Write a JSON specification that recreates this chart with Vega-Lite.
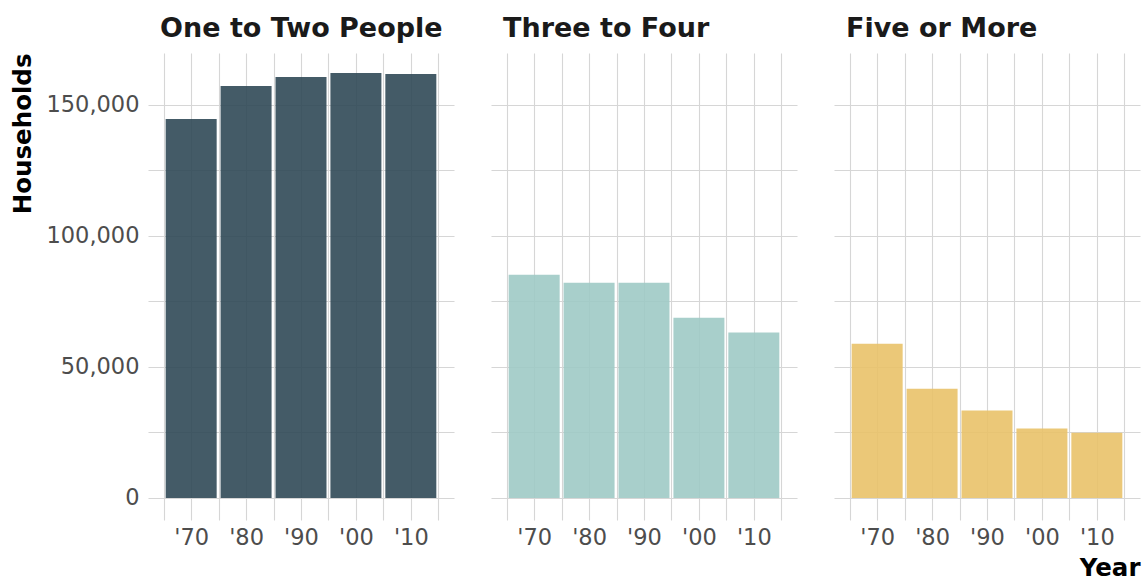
{
  "$schema": "https://vega.github.io/schema/vega-lite/v6.json",
  "padding": {"left": 10, "top": 15, "right": 2, "bottom": 2},
  "background": "white",
  "config": {
    "font": "DejaVu Sans",
    "view": {"stroke": null},
    "axis": {"grid": true, "gridColor": "#d6d6d6", "gridWidth": 1.1, "domain": false, "ticks": false, "tickSize": 0, "labelFontSize": 22.5, "labelColor": "#4d4d4d", "titleFontSize": 24.5, "titleFontWeight": "bold", "titleColor": "#000000"},
    "title": {"fontSize": 27, "fontWeight": "bold", "anchor": "start", "frame": "group", "color": "#1a1a1a", "offset": 10},
    "concat": {"spacing": 37}
  },
  "datasets": {
    "households": [
      {"size": "One to Two People", "year": 1970, "households": 144600},
      {"size": "One to Two People", "year": 1980, "households": 157200},
      {"size": "One to Two People", "year": 1990, "households": 160600},
      {"size": "One to Two People", "year": 2000, "households": 162150},
      {"size": "One to Two People", "year": 2010, "households": 161800},
      {"size": "Three to Four", "year": 1970, "households": 85200},
      {"size": "Three to Four", "year": 1980, "households": 82100},
      {"size": "Three to Four", "year": 1990, "households": 82100},
      {"size": "Three to Four", "year": 2000, "households": 68800},
      {"size": "Three to Four", "year": 2010, "households": 63100},
      {"size": "Five or More", "year": 1970, "households": 58900},
      {"size": "Five or More", "year": 1980, "households": 41700},
      {"size": "Five or More", "year": 1990, "households": 33400},
      {"size": "Five or More", "year": 2000, "households": 26500},
      {"size": "Five or More", "year": 2010, "households": 24900}
    ]
  },
  "data": {"name": "households"},
  "hconcat": [
    {
      "width": 306, "height": 467,
      "title": {"text": "One to Two People", "dx": 12, "frame": "group"},
      "transform": [{"filter": "datum.size == 'One to Two People'"}],
      "mark": {"type": "bar", "size": 51, "opacity": 0.9},
      "encoding": {
        "x": {"field": "year", "type": "quantitative", "scale": {"domain": [1963.05, 2016.95], "nice": false, "zero": false},
              "axis": {"values": [1965, 1970, 1975, 1980, 1985, 1990, 1995, 2000, 2005, 2010, 2015], "labelExpr": "datum.value % 10 == 0 ? \"'\" + slice(toString(datum.value), 2) : ''", "title": null, "labelPadding": 6}},
        "y": {"field": "households", "type": "quantitative", "stack": null, "scale": {"domain": [-8400, 169800], "nice": false, "zero": false},
              "axis": {"values": [0, 25000, 50000, 75000, 100000, 125000, 150000, 175000], "labelExpr": "datum.value % 50000 == 0 ? format(datum.value, ',') : ''", "title": "Households", "titleAnchor": "end", "titlePadding": 10, "labelPadding": 9}},
        "y2": {"datum": 0},
        "color": {"field": "size", "type": "nominal", "scale": {"domain": ["One to Two People", "Three to Four", "Five or More"], "range": ["#304956", "#9fcac5", "#e9c269"]}, "legend": null}
      }
    },
    {
      "width": 306, "height": 467,
      "title": {"text": "Three to Four", "dx": 12, "frame": "group"},
      "transform": [{"filter": "datum.size == 'Three to Four'"}],
      "mark": {"type": "bar", "size": 51, "opacity": 0.9},
      "encoding": {
        "x": {"field": "year", "type": "quantitative", "scale": {"domain": [1963.05, 2016.95], "nice": false, "zero": false},
              "axis": {"values": [1965, 1970, 1975, 1980, 1985, 1990, 1995, 2000, 2005, 2010, 2015], "labelExpr": "datum.value % 10 == 0 ? \"'\" + slice(toString(datum.value), 2) : ''", "title": null, "labelPadding": 6}},
        "y": {"field": "households", "type": "quantitative", "stack": null, "scale": {"domain": [-8400, 169800], "nice": false, "zero": false},
              "axis": {"values": [0, 25000, 50000, 75000, 100000, 125000, 150000, 175000], "labels": false, "title": null}},
        "y2": {"datum": 0},
        "color": {"field": "size", "type": "nominal", "legend": null}
      }
    },
    {
      "width": 306, "height": 467,
      "title": {"text": "Five or More", "dx": 12, "frame": "group"},
      "transform": [{"filter": "datum.size == 'Five or More'"}],
      "mark": {"type": "bar", "size": 51, "opacity": 0.9},
      "encoding": {
        "x": {"field": "year", "type": "quantitative", "scale": {"domain": [1963.05, 2016.95], "nice": false, "zero": false},
              "axis": {"values": [1965, 1970, 1975, 1980, 1985, 1990, 1995, 2000, 2005, 2010, 2015], "labelExpr": "datum.value % 10 == 0 ? \"'\" + slice(toString(datum.value), 2) : ''", "title": "Year", "titleAnchor": "end", "titlePadding": 8, "labelPadding": 6}},
        "y": {"field": "households", "type": "quantitative", "stack": null, "scale": {"domain": [-8400, 169800], "nice": false, "zero": false},
              "axis": {"values": [0, 25000, 50000, 75000, 100000, 125000, 150000, 175000], "labels": false, "title": null}},
        "y2": {"datum": 0},
        "color": {"field": "size", "type": "nominal", "legend": null}
      }
    }
  ]
}
